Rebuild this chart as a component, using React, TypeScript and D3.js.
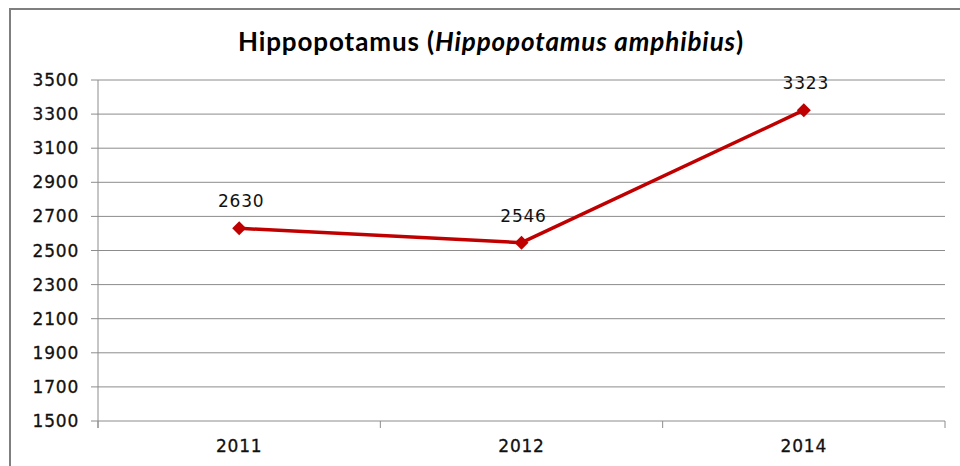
import React from "react";
import * as d3 from "d3";

const categories = ["2011", "2012", "2014"];
const values = [2630, 2546, 3323];
const yTicks = [1500, 1700, 1900, 2100, 2300, 2500, 2700, 2900, 3100, 3300, 3500];

export default function App() {
  const W = 960, H = 466;
  const m = { left: 98, right: 945, top: 80, bottom: 421 };
  const x = d3.scaleBand().domain(categories).range([m.left, m.right]);
  const y = d3.scaleLinear().domain([1500, 3500]).range([m.bottom, m.top]);
  const line = d3.line<number>()
    .x((_, i) => (x(categories[i]) as number) + x.bandwidth() / 2)
    .y((d) => y(d));
  const bounds = [...categories.map((c) => x(c) as number), m.right];
  const grid = "#8c8c8c";
  const tickFont = "DejaVu Sans, Verdana, sans-serif";
  const tickStyle = { fontFamily: tickFont, fontSize: 17, letterSpacing: 0.8, fill: "#111", stroke: "#111", strokeWidth: 0.3 };
  return (
    <svg width={W} height={H} style={{ position: "fixed", left: 0, top: 0, background: "#fff" }}>
      <rect x={0} y={0} width={W} height={H} fill="#fff" />
      <rect x={10} y={9} width={W + 20} height={H + 20} fill="none" stroke="#7f7f7f" strokeWidth={2} />
      <text x={491} y={51} textAnchor="middle" fontFamily="Lato, Open Sans, sans-serif" fontWeight="bold" fontSize={26} letterSpacing={0.9} fill="#000">
        Hippopotamus (<tspan fontStyle="italic">Hippopotamus amphibius</tspan>)
      </text>
      {yTicks.map((t) => (
        <g key={t}>
          <line x1={m.left - 7} x2={m.right} y1={y(t)} y2={y(t)} stroke={grid} strokeWidth={1} />
          <text x={79} y={y(t) + 6} textAnchor="end" style={tickStyle}>{t}</text>
        </g>
      ))}
      <line x1={m.left} x2={m.left} y1={m.top} y2={m.bottom + 7} stroke={grid} strokeWidth={1} />
      {bounds.map((b, i) => (
        <line key={i} x1={b} x2={b} y1={m.bottom} y2={m.bottom + 7} stroke={grid} strokeWidth={1} />
      ))}
      {categories.map((c) => (
        <text key={c} x={(x(c) as number) + x.bandwidth() / 2} y={452} textAnchor="middle" style={tickStyle}>{c}</text>
      ))}
      <path d={line(values) || ""} fill="none" stroke="#c00000" strokeWidth={3.5} strokeLinejoin="round" />
      {values.map((v, i) => {
        const cx = (x(categories[i]) as number) + x.bandwidth() / 2;
        const cy = y(v);
        return (
          <g key={i}>
            <path d={`M${cx},${cy - 7}L${cx + 7},${cy}L${cx},${cy + 7}L${cx - 7},${cy}Z`} fill="#c00000" />
            <text x={cx + 2} y={cy - 21} textAnchor="middle" style={{ ...tickStyle, strokeWidth: 0 }}>{v}</text>
          </g>
        );
      })}
    </svg>
  );
}
